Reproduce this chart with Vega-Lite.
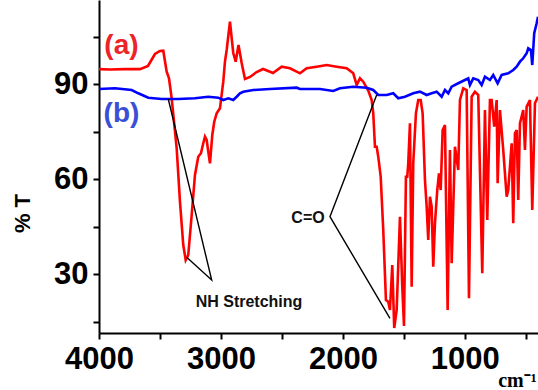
{
  "$schema": "https://vega.github.io/schema/vega-lite/v6.json",
  "width": 439,
  "height": 333,
  "autosize": {"type": "none"},
  "padding": {"left": 99, "top": 0, "right": 0, "bottom": 57},
  "background": "white",
  "config": {"view": {"stroke": null}, "font": "Liberation Sans"},
  "datasets": {
    "spectra": [
      {"s":"a","w":4000,"t":94.8},{"s":"a","w":3910,"t":94.67},{"s":"a","w":3787,"t":94.8},{"s":"a","w":3664,"t":94.8},{"s":"a","w":3598,"t":95.78},{"s":"a","w":3541,"t":99.57},{"s":"a","w":3500,"t":100.52},{"s":"a","w":3473,"t":100.61},{"s":"a","w":3445,"t":93.98},{"s":"a","w":3426,"t":91.89},{"s":"a","w":3404,"t":85.58},{"s":"a","w":3363,"t":69.79},{"s":"a","w":3336,"t":52.93},{"s":"a","w":3309,"t":39.25},{"s":"a","w":3289,"t":34.51},{"s":"a","w":3268,"t":36.09},{"s":"a","w":3240,"t":48.72},{"s":"a","w":3213,"t":61.36},{"s":"a","w":3186,"t":67.14},{"s":"a","w":3164,"t":68.21},{"s":"a","w":3145,"t":71.37},{"s":"a","w":3131,"t":73.45},{"s":"a","w":3117,"t":72.41},{"s":"a","w":3104,"t":68.72},{"s":"a","w":3090,"t":65.05},{"s":"a","w":3071,"t":73.99},{"s":"a","w":3055,"t":78.19},{"s":"a","w":3035,"t":80.84},{"s":"a","w":3008,"t":82.42},{"s":"a","w":2981,"t":90.82},{"s":"a","w":2967,"t":97.14},{"s":"a","w":2953,"t":100.83},{"s":"a","w":2926,"t":109.77},{"s":"a","w":2899,"t":99.88},{"s":"a","w":2879,"t":97.14},{"s":"a","w":2856,"t":102.41},{"s":"a","w":2830,"t":96.73},{"s":"a","w":2803,"t":91.67},{"s":"a","w":2762,"t":92.31},{"s":"a","w":2707,"t":93.88},{"s":"a","w":2655,"t":94.83},{"s":"a","w":2598,"t":93.98},{"s":"a","w":2573,"t":93.57},{"s":"a","w":2502,"t":95.56},{"s":"a","w":2434,"t":95.05},{"s":"a","w":2352,"t":93.47},{"s":"a","w":2297,"t":95.05},{"s":"a","w":2215,"t":95.56},{"s":"a","w":2133,"t":96.09},{"s":"a","w":2051,"t":95.56},{"s":"a","w":1969,"t":95.05},{"s":"a","w":1915,"t":93.47},{"s":"a","w":1887,"t":89.78},{"s":"a","w":1860,"t":91.89},{"s":"a","w":1833,"t":90.82},{"s":"a","w":1792,"t":88.0},{"s":"a","w":1764,"t":85.04},{"s":"a","w":1751,"t":80.84},{"s":"a","w":1737,"t":70.29},{"s":"a","w":1723,"t":70.29},{"s":"a","w":1710,"t":67.14},{"s":"a","w":1690,"t":60.82},{"s":"a","w":1669,"t":43.99},{"s":"a","w":1647,"t":21.88},{"s":"a","w":1628,"t":21.35},{"s":"a","w":1614,"t":18.72},{"s":"a","w":1595,"t":32.93},{"s":"a","w":1579,"t":13.04},{"s":"a","w":1559,"t":18.72},{"s":"a","w":1532,"t":48.19},{"s":"a","w":1513,"t":26.08},{"s":"a","w":1499,"t":13.67},{"s":"a","w":1483,"t":60.82},{"s":"a","w":1472,"t":60.82},{"s":"a","w":1464,"t":65.05},{"s":"a","w":1450,"t":77.68},{"s":"a","w":1436,"t":26.08},{"s":"a","w":1423,"t":65.05},{"s":"a","w":1401,"t":80.84},{"s":"a","w":1382,"t":85.04},{"s":"a","w":1362,"t":85.04},{"s":"a","w":1346,"t":80.84},{"s":"a","w":1327,"t":59.78},{"s":"a","w":1313,"t":51.35},{"s":"a","w":1300,"t":40.83},{"s":"a","w":1286,"t":54.5},{"s":"a","w":1272,"t":51.35},{"s":"a","w":1259,"t":32.4},{"s":"a","w":1245,"t":46.1},{"s":"a","w":1226,"t":56.62},{"s":"a","w":1212,"t":61.89},{"s":"a","w":1198,"t":56.62},{"s":"a","w":1182,"t":75.57},{"s":"a","w":1163,"t":77.15},{"s":"a","w":1141,"t":18.72},{"s":"a","w":1122,"t":69.25},{"s":"a","w":1108,"t":33.47},{"s":"a","w":1081,"t":70.29},{"s":"a","w":1054,"t":62.94},{"s":"a","w":1040,"t":85.04},{"s":"a","w":1013,"t":88.74},{"s":"a","w":985,"t":88.2},{"s":"a","w":966,"t":22.42},{"s":"a","w":944,"t":86.08},{"s":"a","w":917,"t":87.66},{"s":"a","w":890,"t":86.62},{"s":"a","w":857,"t":30.31},{"s":"a","w":835,"t":81.88},{"s":"a","w":816,"t":47.15},{"s":"a","w":794,"t":85.04},{"s":"a","w":780,"t":85.04},{"s":"a","w":759,"t":76.61},{"s":"a","w":739,"t":85.04},{"s":"a","w":731,"t":58.74},{"s":"a","w":712,"t":81.88},{"s":"a","w":685,"t":69.25},{"s":"a","w":657,"t":54.5},{"s":"a","w":644,"t":56.62},{"s":"a","w":616,"t":71.37},{"s":"a","w":603,"t":46.1},{"s":"a","w":589,"t":74.53},{"s":"a","w":575,"t":75.57},{"s":"a","w":562,"t":53.46},{"s":"a","w":548,"t":77.68},{"s":"a","w":521,"t":81.88},{"s":"a","w":507,"t":69.25},{"s":"a","w":493,"t":82.93},{"s":"a","w":466,"t":85.04},{"s":"a","w":447,"t":50.3},{"s":"a","w":425,"t":84.0},{"s":"a","w":400,"t":86.08},
      {"s":"b","w":4000,"t":88.52},{"s":"b","w":3869,"t":88.74},{"s":"b","w":3732,"t":88.2},{"s":"b","w":3678,"t":87.16},{"s":"b","w":3596,"t":85.77},{"s":"b","w":3486,"t":85.36},{"s":"b","w":3350,"t":85.36},{"s":"b","w":3213,"t":85.58},{"s":"b","w":3104,"t":86.08},{"s":"b","w":3022,"t":85.77},{"s":"b","w":2981,"t":85.04},{"s":"b","w":2940,"t":85.58},{"s":"b","w":2899,"t":85.04},{"s":"b","w":2871,"t":86.08},{"s":"b","w":2844,"t":87.16},{"s":"b","w":2817,"t":87.66},{"s":"b","w":2735,"t":88.2},{"s":"b","w":2598,"t":88.52},{"s":"b","w":2379,"t":88.93},{"s":"b","w":2352,"t":88.52},{"s":"b","w":2188,"t":88.52},{"s":"b","w":2079,"t":87.88},{"s":"b","w":2024,"t":88.74},{"s":"b","w":1915,"t":89.24},{"s":"b","w":1805,"t":88.93},{"s":"b","w":1751,"t":88.2},{"s":"b","w":1710,"t":86.62},{"s":"b","w":1641,"t":86.62},{"s":"b","w":1587,"t":87.16},{"s":"b","w":1546,"t":85.58},{"s":"b","w":1491,"t":86.08},{"s":"b","w":1423,"t":87.16},{"s":"b","w":1368,"t":87.66},{"s":"b","w":1313,"t":86.62},{"s":"b","w":1272,"t":87.16},{"s":"b","w":1231,"t":87.66},{"s":"b","w":1190,"t":86.08},{"s":"b","w":1163,"t":88.2},{"s":"b","w":1136,"t":87.16},{"s":"b","w":1108,"t":89.24},{"s":"b","w":1054,"t":90.32},{"s":"b","w":999,"t":91.36},{"s":"b","w":972,"t":91.89},{"s":"b","w":958,"t":89.78},{"s":"b","w":931,"t":91.89},{"s":"b","w":890,"t":91.36},{"s":"b","w":862,"t":89.78},{"s":"b","w":835,"t":92.4},{"s":"b","w":794,"t":91.36},{"s":"b","w":767,"t":92.94},{"s":"b","w":731,"t":90.32},{"s":"b","w":698,"t":92.94},{"s":"b","w":644,"t":93.47},{"s":"b","w":603,"t":94.52},{"s":"b","w":575,"t":95.56},{"s":"b","w":548,"t":97.14},{"s":"b","w":521,"t":98.21},{"s":"b","w":493,"t":99.79},{"s":"b","w":480,"t":101.37},{"s":"b","w":458,"t":100.83},{"s":"b","w":447,"t":96.09},{"s":"b","w":431,"t":106.11},{"s":"b","w":411,"t":109.26},{"s":"b","w":400,"t":111.35}
    ],
    "ann": [
      {"g":"nh","o":1,"w":3432,"t":85.36},{"g":"nh","o":2,"w":3076,"t":28.2},{"g":"nh","o":3,"w":3281,"t":35.37},
      {"g":"co","o":1,"w":1723,"t":86.62},{"g":"co","o":2,"w":2106,"t":48.19},{"g":"co","o":3,"w":1614,"t":16.1}
    ]
  },
  "layer": [
    {
      "data": {"name": "spectra"},
      "mark": {"type": "line", "strokeWidth": 2.6, "clip": true},
      "encoding": {
        "x": {
          "field": "w", "type": "quantitative",
          "scale": {"domain": [400, 4000], "reverse": true, "nice": false, "zero": false},
          "axis": {
            "values": [4000, 3500, 3000, 2500, 2000, 1500, 1000, 500],
            "format": "d",
            "labelExpr": "datum.value % 1000 == 0 ? datum.label : ''",
            "labelOverlap": false, "labelFlush": false,
            "labelFont": "Liberation Sans", "labelFontSize": 31, "labelFontWeight": "bold", "labelColor": "black",
            "labelPadding": 5,
            "tickSize": 6, "tickWidth": 2, "tickColor": "black",
            "domainWidth": 2, "domainColor": "black", "grid": false,
            "title": "cm⁻¹", "titleFont": "Liberation Serif", "titleFontSize": 20, "titleFontWeight": "bold", "titleColor": "black",
            "titleX": 418, "titleY": 53, "titleAlign": "center", "titleBaseline": "alphabetic"
          }
        },
        "y": {
          "field": "t", "type": "quantitative",
          "scale": {"domain": [11.46, 116.62], "nice": false, "zero": false},
          "axis": {
            "values": [15, 30, 45, 60, 75, 90, 105],
            "labelExpr": "datum.value % 30 == 0 ? datum.label : ''",
            "labelOverlap": false, "labelFlush": false,
            "labelFont": "Liberation Sans", "labelFontSize": 31, "labelFontWeight": "bold", "labelColor": "black",
            "labelPadding": 5,
            "tickSize": 6, "tickWidth": 2, "tickColor": "black",
            "domainWidth": 2, "domainColor": "black", "grid": false,
            "title": "% T", "titleFont": "Liberation Sans", "titleFontSize": 22, "titleFontWeight": "bold", "titleColor": "black",
            "titleAngle": -90, "titleX": -77, "titleY": 213, "titleAlign": "center", "titleBaseline": "middle"
          }
        },
        "color": {"field": "s", "type": "nominal", "scale": {"domain": ["a", "b"], "range": ["#ff0000", "#0000ff"]}, "legend": null}
      }
    },
    {
      "data": {"name": "ann"},
      "mark": {"type": "line", "color": "black", "strokeWidth": 1.4},
      "encoding": {
        "x": {"field": "w", "type": "quantitative"},
        "y": {"field": "t", "type": "quantitative"},
        "detail": {"field": "g"},
        "order": {"field": "o"}
      }
    },
    {
      "data": {"values": [{"label": "(a)", "w": 3816, "t": 101.94}]},
      "mark": {"type": "text", "font": "Liberation Sans", "fontSize": 28, "fontWeight": "bold", "color": "#ec2328", "align": "center", "baseline": "middle"},
      "encoding": {"x": {"field": "w", "type": "quantitative"}, "y": {"field": "t", "type": "quantitative"}, "text": {"field": "label"}}
    },
    {
      "data": {"values": [{"label": "(b)", "w": 3816, "t": 80.62}]},
      "mark": {"type": "text", "font": "Liberation Sans", "fontSize": 28, "fontWeight": "bold", "color": "#3b4ed6", "align": "center", "baseline": "middle"},
      "encoding": {"x": {"field": "w", "type": "quantitative"}, "y": {"field": "t", "type": "quantitative"}, "text": {"field": "label"}}
    },
    {
      "data": {"values": [{"label": "NH Stretching", "w": 2770, "t": 21.35}, {"label": "C=O", "w": 2286, "t": 47.93}]},
      "mark": {"type": "text", "font": "Liberation Sans", "fontSize": 16, "fontWeight": "bold", "color": "#111111", "align": "center", "baseline": "middle"},
      "encoding": {"x": {"field": "w", "type": "quantitative"}, "y": {"field": "t", "type": "quantitative"}, "text": {"field": "label"}}
    }
  ]
}
